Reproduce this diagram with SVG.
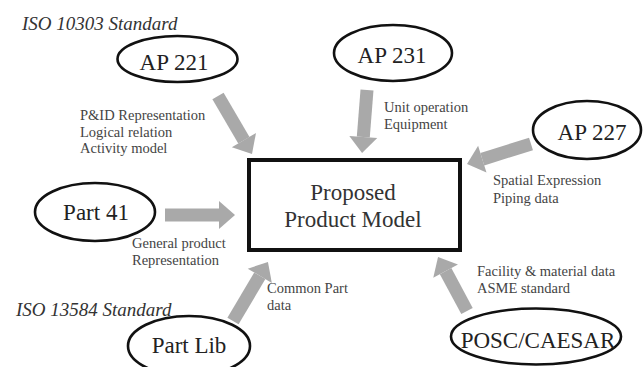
<svg xmlns="http://www.w3.org/2000/svg" width="644" height="367" viewBox="0 0 644 367">
  <style>
    .node ellipse { fill: #ffffff; stroke: #111111; stroke-width: 2.6; }
    .node text { font-family: "Liberation Serif", "Times New Roman", serif; font-size: 23px; fill: #222222; text-anchor: middle; }
    .core rect { fill: #ffffff; stroke: #111111; stroke-width: 4; }
    .core text { font-family: "Liberation Serif", "Times New Roman", serif; font-size: 23px; fill: #333333; text-anchor: middle; }
    .flow line { stroke: #a9a9a9; stroke-width: 13; marker-end: url(#head); }
    .note { font-family: "Liberation Serif", "Times New Roman", serif; font-size: 14.5px; fill: #444444; }
    .std { font-family: "Liberation Serif", "Times New Roman", serif; font-size: 19px; font-style: italic; fill: #333333; }
  </style>
  <defs>
    <marker id="head" markerUnits="userSpaceOnUse" markerWidth="16" markerHeight="28" refX="0" refY="14" orient="auto" overflow="visible">
      <path d="M0,0 L16,14 L0,28 Z" fill="#a9a9a9"/>
    </marker>
  </defs>

  <rect width="644" height="367" fill="#ffffff"/>

  <!-- standard headings -->
  <text class="std" x="22" y="30">ISO 10303 Standard</text>
  <text class="std" x="16" y="316">ISO 13584 Standard</text>

  <!-- flows into the product model -->
  <g id="connectors" class="flow">
    <line x1="218" y1="96" x2="243.9" y2="140.2"/>
    <line x1="367" y1="90" x2="363.3" y2="137"/>
    <line x1="531" y1="144" x2="482.3" y2="159.2"/>
    <line x1="165" y1="215" x2="219" y2="215"/>
    <line x1="233" y1="321" x2="259.8" y2="275.8"/>
    <line x1="467" y1="311" x2="445.6" y2="271.1"/>
  </g>

  <!-- central model -->
  <g id="product-model" class="core">
    <rect x="249" y="160" width="211" height="90"/>
    <text x="353" y="200">Proposed</text>
    <text x="353" y="227">Product Model</text>
  </g>

  <g id="ap221" class="node">
    <ellipse cx="177.5" cy="59" rx="60" ry="23"/>
    <text x="174" y="70">AP 221</text>
  </g>
  <g id="ap231" class="node">
    <ellipse cx="393" cy="53" rx="59" ry="28"/>
    <text x="392" y="63">AP 231</text>
  </g>
  <g id="ap227" class="node">
    <ellipse cx="587" cy="130" rx="54" ry="29"/>
    <text x="592" y="140">AP 227</text>
  </g>
  <g id="part41" class="node">
    <ellipse cx="95" cy="212" rx="60" ry="29"/>
    <text x="96" y="220">Part 41</text>
  </g>
  <g id="partlib" class="node">
    <ellipse cx="189" cy="346" rx="61" ry="30"/>
    <text x="189" y="353">Part Lib</text>
  </g>
  <g id="posc-caesar" class="node">
    <ellipse cx="536" cy="336.5" rx="85" ry="28"/>
    <text x="538" y="348">POSC/CAESAR</text>
  </g>

  <!-- flow descriptions -->
  <g id="labels">
    <text class="note" x="80" y="120">P&amp;ID Representation</text>
    <text class="note" x="80" y="136.5">Logical relation</text>
    <text class="note" x="80" y="153">Activity model</text>
    <text class="note" x="384" y="112">Unit operation</text>
    <text class="note" x="384" y="129">Equipment</text>
    <text class="note" x="493" y="185">Spatial Expression</text>
    <text class="note" x="493" y="203">Piping data</text>
    <text class="note" x="132" y="248">General product</text>
    <text class="note" x="132" y="265">Representation</text>
    <text class="note" x="267" y="293">Common Part</text>
    <text class="note" x="267" y="310">data</text>
    <text class="note" x="477" y="276">Facility &amp; material data</text>
    <text class="note" x="477" y="293">ASME standard</text>
  </g>
</svg>
